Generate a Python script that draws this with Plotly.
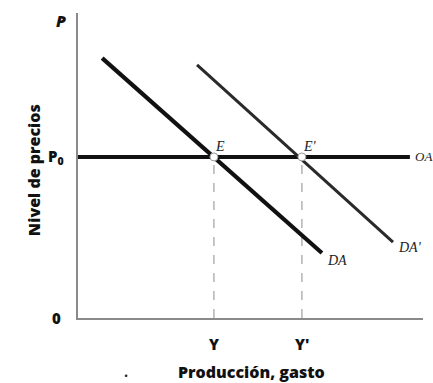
import plotly.graph_objects as go

# data (chart units: origin at 0,0, axes run to 10)
da_x = [0.70, 7.07]
da_y = [8.52, 2.13]
da2_x = [3.45, 9.13]
da2_y = [8.30, 2.49]
oa_x = [0.0, 9.62]
p0 = 5.28
y_eq = [3.94, 6.49]
eq_labels = ["E", "E'"]
x_ticks = ["Y", "Y'"]

FONT_BOLD = "Open Sans"
FONT_SERIF = "Liberation Serif"

fig = go.Figure()

# dashed guides from equilibria down to the x axis
for xv in y_eq:
    fig.add_trace(go.Scatter(
        x=[xv, xv], y=[0, p0], mode="lines",
        line={"color": "#a0a0a0", "width": 1.2, "dash": "dash"},
        showlegend=False, hoverinfo="skip",
    ))

# aggregate supply (horizontal)
fig.add_trace(go.Scatter(
    x=oa_x, y=[p0, p0], mode="lines",
    line={"color": "#111111", "width": 4}, showlegend=False,
))
# DA and DA'
fig.add_trace(go.Scatter(
    x=da_x, y=da_y, mode="lines",
    line={"color": "#111111", "width": 4.2}, showlegend=False,
))
fig.add_trace(go.Scatter(
    x=da2_x, y=da2_y, mode="lines",
    line={"color": "#2a2a2a", "width": 3}, showlegend=False,
))
# equilibrium points
fig.add_trace(go.Scatter(
    x=y_eq, y=[p0, p0], mode="markers",
    marker={"color": "white", "size": 8, "line": {"color": "#999999", "width": 1}},
    showlegend=False,
))

# curve / point labels
serif = {"family": FONT_SERIF, "size": 14, "color": "#222222"}
for xv, lab in zip(y_eq, eq_labels):
    fig.add_annotation(x=xv, y=p0, text=f"<i>{lab}</i>", showarrow=False,
                       xanchor="left", yanchor="bottom", xshift=-1, yshift=1, font=serif)
fig.add_annotation(x=da_x[1], y=da_y[1], text="<i>DA</i>", showarrow=False,
                   xanchor="left", yanchor="top", xshift=3, yshift=2, font=serif)
fig.add_annotation(x=da2_x[1], y=da2_y[1], text="<i>DA'</i>", showarrow=False,
                   xanchor="left", yanchor="top", xshift=3, yshift=4, font=serif)
fig.add_annotation(x=oa_x[1], y=p0, text="<i>OA</i>", showarrow=False,
                   xanchor="left", yanchor="middle", xshift=3, font={**serif, "size": 13})

bold = {"family": FONT_BOLD, "size": 15, "color": "#111111", "weight": 800}
# axis tick-like labels
fig.add_annotation(x=0, y=p0, text="P<sub>0</sub>", showarrow=False,
                   xanchor="right", xshift=-12, font=bold)
fig.add_annotation(x=0, y=0, text="0", showarrow=False,
                   xanchor="right", xshift=-15, font=bold)
fig.add_annotation(x=0, y=9.75, text="<i>P</i>", showarrow=False,
                   xanchor="right", xshift=-10, font={**bold, "size": 16})
for xv, lab in zip(y_eq, x_ticks):
    fig.add_annotation(x=xv, y=0, text=lab, showarrow=False,
                       yanchor="top", yshift=-14, font=bold)

# axis titles
fig.add_annotation(xref="paper", yref="paper", x=-0.165, y=0.485, text="Nivel de precios",
                   textangle=-90, showarrow=False, font={**bold, "size": 16})
fig.add_annotation(xref="paper", yref="paper", x=0.504, y=-0.133, text="Producción, gasto",
                   showarrow=False, yanchor="top", font={**bold, "size": 16})
fig.add_annotation(xref="paper", yref="paper", x=0.128, y=-0.158, text="•",
                   showarrow=False, yanchor="top", font={"size": 11, "color": "#222"})

axis_common = {
    "showgrid": False, "zeroline": False, "showticklabels": False, "ticks": "",
    "range": [0, 10], "fixedrange": True,
}
fig.update_layout(
    width=433, height=383,
    margin={"l": 78, "r": 10, "t": 13, "b": 65},
    paper_bgcolor="white", plot_bgcolor="white",
    xaxis={**axis_common, "showline": True, "linecolor": "#8a8a8a", "linewidth": 1.5},
    yaxis={**axis_common, "showline": True, "linecolor": "#8a8a8a", "linewidth": 1.5},
    showlegend=False,
)

fig.write_html("out.html", config={"displayModeBar": False},
               post_script="document.body.style.margin='0';")
